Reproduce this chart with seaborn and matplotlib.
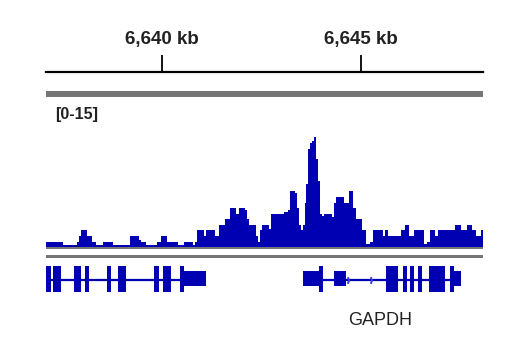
import numpy as np
import matplotlib
matplotlib.use("Agg")
import matplotlib.pyplot as plt
from matplotlib.patches import Rectangle
from matplotlib.ticker import FuncFormatter
import seaborn as sns

sns.set_style("white")
plt.rcParams['font.family'] = ['Liberation Sans', 'DejaVu Sans']

# view window (kb) and ruler
region = (6637.085, 6648.065)
ruler_ticks = [6640, 6645]
data_range = "[0-15]"

# ChIP-seq coverage: bin starts (kb) and signal
bin_start = [6637.085, 6637.513, 6637.864, 6637.915, 6637.965, 6638.116, 6638.241, 6638.342, 6638.518, 6638.769,
             6639.196, 6639.422, 6639.472, 6639.598, 6639.874, 6639.975, 6640.126, 6640.402, 6640.553, 6640.779,
             6640.829, 6640.879, 6641.055, 6641.106, 6641.332, 6641.432, 6641.583, 6641.709, 6641.859, 6641.935,
             6642.085, 6642.136, 6642.186, 6642.362, 6642.412, 6642.462, 6642.513, 6642.688, 6642.739, 6643.065,
             6643.166, 6643.216, 6643.342, 6643.392, 6643.442, 6643.492, 6643.543, 6643.593, 6643.618, 6643.668,
             6643.719, 6643.769, 6643.819, 6643.869, 6643.920, 6643.970, 6644.020, 6644.070, 6644.271, 6644.322,
             6644.372, 6644.573, 6644.698, 6644.799, 6644.874, 6645.025, 6645.126, 6645.226, 6645.302, 6645.553,
             6645.603, 6645.678, 6646.005, 6646.106, 6646.206, 6646.332, 6646.583, 6646.658, 6646.734, 6646.859,
             6646.935, 6647.362, 6647.513, 6647.663, 6647.789, 6647.889, 6648.015]
bin_value = [0.68, 0.27, 0.68, 1.5, 2.3, 1.5, 0.68, 0.27, 0.68, 0.27,
             1.5, 0.95, 0.68, 0.27, 0.68, 1.5, 0.68, 0.27, 0.68, 0.27,
             0.68, 2.3, 1.5, 2.3, 1.5, 3.0, 3.8, 5.3, 4.5, 5.3,
             5.0, 3.8, 3.0, 1.5, 0.68, 2.3, 3.0, 2.45, 4.5, 4.8,
             5.0, 7.6, 7.4, 5.3, 3.0, 2.3, 3.0, 6.0, 8.6, 13.4,
             14.2, 14.5, 15.0, 12.0, 9.0, 4.5, 4.2, 4.5, 4.1, 6.0,
             6.8, 6.0, 7.6, 5.3, 3.8, 2.3, 0.41, 0.68, 2.3, 1.5,
             2.3, 1.5, 2.3, 3.0, 1.5, 2.3, 0.41, 0.68, 2.3, 1.5,
             2.3, 3.0, 2.3, 3.0, 2.3, 1.5, 2.3]

# genes (kb)
gene_names = ["", "GAPDH"]
gene_span = [(6637.085, 6640.553), (6643.543, 6647.513)]
gene_cds = [
    [(6637.085, 6637.211), (6637.261, 6637.462), (6637.789, 6637.965), (6638.065, 6638.166), (6638.618, 6638.719),
     (6638.894, 6639.095), (6639.799, 6639.925), (6640.025, 6640.226), (6640.452, 6640.553)],
    [(6643.945, 6644.045), (6645.628, 6645.930), (6646.055, 6646.156), (6646.231, 6646.332), (6646.432, 6646.533),
     (6646.709, 6647.111), (6647.236, 6647.337)],
]
gene_utr = [
    [(6640.553, 6641.106)],
    [(6643.543, 6643.945), (6644.322, 6644.623), (6647.337, 6647.513)],
]
strand_arrows = [6644.68, 6645.25]

blue = "#0000B2"
gray = "#767676"
txt = "#222222"
W, H = 520, 350


def fig_rect(x0, y0, x1, y1):
    # pixel box (top-left origin) -> figure fraction [l, b, w, h]
    return [x0 / W, 1 - y1 / H, (x1 - x0) / W, (y1 - y0) / H]


fig = plt.figure(figsize=(5.2, 3.5), dpi=100)

# ruler
ax_r = fig.add_axes(fig_rect(46, 72, 483, 80))
ax_r.set_xlim(*region)
ax_r.set_facecolor("none")
for s in ["left", "right", "bottom"]:
    ax_r.spines[s].set_visible(False)
ax_r.spines["top"].set_linewidth(1.6)
ax_r.spines["top"].set_color("black")
ax_r.xaxis.tick_top()
ax_r.set_xticks(ruler_ticks)
ax_r.set_yticks([])
ax_r.xaxis.set_major_formatter(FuncFormatter(lambda v, p: f"{int(v):,} kb"))
ax_r.tick_params(axis="x", direction="out", length=12, width=1.3, pad=5,
                 labelsize=13.5, labelcolor=txt, color="black")
for lab in ax_r.get_xticklabels():
    lab.set_fontweight("bold")

# signal track
ax_s = fig.add_axes(fig_rect(46, 137, 483, 247))
edges = bin_start + [region[1]]
sns.histplot(x=bin_start, weights=bin_value, bins=edges, element="step", fill=True,
             color=blue, alpha=1, linewidth=0, ax=ax_s)
ax_s.set_xlim(*region)
ax_s.set_ylim(0, 15)
ax_s.axis("off")
fig.text(55 / W, 1 - 114 / H, data_range, fontsize=11.5, fontweight="bold", color=txt, va="center", ha="left")

# gene track
ax_g = fig.add_axes(fig_rect(46, 260, 483, 300))
ax_g.set_xlim(*region)
ax_g.set_ylim(0, 1)
ax_g.axis("off")
for name, span, cds, utr in zip(gene_names, gene_span, gene_cds, gene_utr):
    ax_g.plot(span, [0.5, 0.5], color=blue, lw=1.6, solid_capstyle="butt")
    ax_g.broken_barh([(a, b - a) for a, b in cds], (0.2, 0.65), color=blue, lw=0)
    ax_g.broken_barh([(a, b - a) for a, b in utr], (0.35, 0.375), color=blue, lw=0)
    if name:
        ax_g.text(np.mean(span) - 0.05, -0.52, name, fontsize=13, color=txt, ha="center", va="center")
ax_g.plot(strand_arrows, [0.5] * len(strand_arrows), ls="", marker="$\\rangle$", ms=4, color="#3a3aff")

# separator bars
for y0, y1 in [(91, 97), (247, 249), (255, 258)]:
    fig.add_artist(Rectangle((46 / W, 1 - y1 / H), 437 / W, (y1 - y0) / H,
                             transform=fig.transFigure, color=gray, lw=0))

fig.savefig("out.png", dpi=100)
